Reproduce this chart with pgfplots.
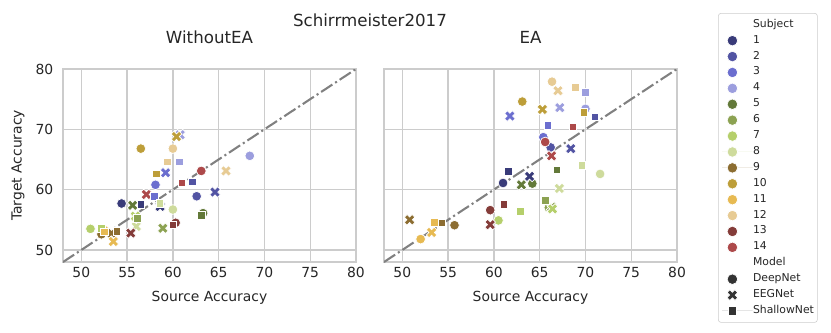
\documentclass[border=0pt]{standalone}
\usepackage{pgfplots}
\pgfplotsset{compat=1.18}
\usepackage{fontspec}
\setmainfont{DejaVu Sans}

\definecolor{c1}{HTML}{393B79}
\definecolor{c2}{HTML}{5254A3}
\definecolor{c3}{HTML}{6B6ECF}
\definecolor{c4}{HTML}{9C9EDE}
\definecolor{c5}{HTML}{637939}
\definecolor{c6}{HTML}{8CA252}
\definecolor{c7}{HTML}{B5CF6B}
\definecolor{c8}{HTML}{CEDB9C}
\definecolor{c9}{HTML}{8C6D31}
\definecolor{c10}{HTML}{BD9E39}
\definecolor{c11}{HTML}{E7BA52}
\definecolor{c12}{HTML}{E7CB94}
\definecolor{c13}{HTML}{843C39}
\definecolor{c14}{HTML}{AD494A}
\definecolor{gridc}{HTML}{CCCCCC}
\definecolor{txt}{HTML}{262626}
\definecolor{mdark}{HTML}{333333}

% filled "X" marker like matplotlib's
\pgfdeclareplotmark{bigX}{%
  \pgftransformrotate{45}%
  \pgfpathmoveto{\pgfqpoint{0.35\pgfplotmarksize}{1\pgfplotmarksize}}%
  \pgfpathlineto{\pgfqpoint{-0.35\pgfplotmarksize}{1\pgfplotmarksize}}%
  \pgfpathlineto{\pgfqpoint{-0.35\pgfplotmarksize}{0.35\pgfplotmarksize}}%
  \pgfpathlineto{\pgfqpoint{-1\pgfplotmarksize}{0.35\pgfplotmarksize}}%
  \pgfpathlineto{\pgfqpoint{-1\pgfplotmarksize}{-0.35\pgfplotmarksize}}%
  \pgfpathlineto{\pgfqpoint{-0.35\pgfplotmarksize}{-0.35\pgfplotmarksize}}%
  \pgfpathlineto{\pgfqpoint{-0.35\pgfplotmarksize}{-1\pgfplotmarksize}}%
  \pgfpathlineto{\pgfqpoint{0.35\pgfplotmarksize}{-1\pgfplotmarksize}}%
  \pgfpathlineto{\pgfqpoint{0.35\pgfplotmarksize}{-0.35\pgfplotmarksize}}%
  \pgfpathlineto{\pgfqpoint{1\pgfplotmarksize}{-0.35\pgfplotmarksize}}%
  \pgfpathlineto{\pgfqpoint{1\pgfplotmarksize}{0.35\pgfplotmarksize}}%
  \pgfpathlineto{\pgfqpoint{0.35\pgfplotmarksize}{0.35\pgfplotmarksize}}%
  \pgfpathclose
  \pgfusepathqfillstroke
}

\pgfplotsset{
  subj/.style={scatter, only marks, forget plot, point meta=explicit symbolic,
    scatter/classes={
      s1={fill=c1,draw=white}, s2={fill=c2,draw=white}, s3={fill=c3,draw=white},
      s4={fill=c4,draw=white}, s5={fill=c5,draw=white}, s6={fill=c6,draw=white},
      s7={fill=c7,draw=white}, s8={fill=c8,draw=white}, s9={fill=c9,draw=white},
      s10={fill=c10,draw=white}, s11={fill=c11,draw=white}, s12={fill=c12,draw=white},
      s13={fill=c13,draw=white}, s14={fill=c14,draw=white}},
    mark options={line width=0.5pt}},
  deep/.style={subj, mark=*, mark size=3.5pt},
  eeg/.style={subj, mark=bigX, mark size=4.0pt},
  shallow/.style={subj, mark=square*, mark size=2.7pt},
  diag/.style={forget plot, no marks, color=gray, line width=1.5pt,
    dash pattern=on 9.6pt off 2.4pt on 1.5pt off 2.4pt},
  lgimg/.style={legend image code/.code={%
    \path (-7.4pt,0pt) -- (14.6pt,0pt);
    \draw[##1] plot coordinates {(0pt,0pt)};}},
  lg/.style={only marks, draw=white, line width=0.5pt, lgimg},
  panel/.style={
    scale only axis, width=210.96pt, height=138.96pt,
    xmin=48, xmax=80, ymin=48, ymax=80,
    xtick={50,55,...,80}, ytick={50,60,70,80},
    grid=major, major grid style={gridc, line width=1pt},
    axis line style={gridc, line width=1.25pt},
    major tick length=0pt,
    /pgf/number format/assume math mode=true,
    tick label style={font=\fontsize{10}{12}\selectfont, text=txt},
    yticklabel style={xshift=-3.5pt},
    label style={font=\fontsize{10}{12}\selectfont, text=txt},
    title style={font=\fontsize{12}{14}\selectfont, text=txt,
      at={(axis description cs:0.5,1.119)}, anchor=center},
    xlabel style={at={(axis description cs:0.5,-0.1865)}, anchor=center},
    ylabel style={at={(axis description cs:-0.1536,0.5)}, anchor=center},
  },
}

\begin{document}
\begin{tikzpicture}
\path (0pt,0pt) rectangle (598.32pt,-239.04pt);
\node[font=\fontsize{12}{14}\selectfont, text=txt] at (266.4pt,-14.4pt) {Schirrmeister2017};

\begin{axis}[panel, at={(45.36pt,-49.68pt)}, anchor=north west,
  title={WithoutEA}, xlabel={Source Accuracy}, ylabel={Target Accuracy}]
\addplot[deep] table[meta=s] {
x y s
54.4 57.7 s1
62.6 58.9 s2
58.1 60.8 s3
68.4 65.6 s4
63.3 56.1 s5
56.0 55.3 s6
51.0 53.5 s7
60.0 56.7 s8
52.2 52.6 s9
56.5 66.8 s10
52.5 53.3 s11
60.0 66.8 s12
60.3 54.5 s13
63.1 63.1 s14
};
\addplot[eeg] table[meta=s] {
x y s
58.6 57.2 s1
64.6 59.6 s2
59.2 62.8 s3
60.8 69.1 s4
55.6 57.4 s5
58.9 53.6 s6
55.9 55.6 s7
56.0 53.9 s8
53.3 52.8 s9
60.4 68.8 s10
53.5 51.4 s11
65.8 63.1 s12
55.4 52.8 s13
57.1 59.2 s14
};
\addplot[shallow] table[meta=s] {
x y s
56.5 57.6 s1
62.1 61.3 s2
58.0 58.9 s3
60.7 64.6 s4
63.1 55.7 s5
56.1 55.2 s6
52.2 53.6 s7
58.6 57.7 s8
53.9 53.1 s9
58.2 62.6 s10
52.5 53.0 s11
59.4 64.6 s12
60.0 54.2 s13
61.0 61.1 s14
};
\addplot[diag] coordinates {(48,48) (80,80)};
\end{axis}

\begin{axis}[panel, at={(276.48pt,-49.68pt)}, anchor=north west,
  title={EA}, xlabel={Source Accuracy}, yticklabels={},
  legend cell align=left,
  legend style={at={(axis description cs:1.14,1.29)}, anchor=north west,
    draw=gridc, rounded corners=2pt, fill=white, text=txt,
    font=\fontsize{7.8}{9}\selectfont, row sep=0pt, column sep=0pt,
    inner xsep=2.5pt, inner ysep=2.5pt,
    nodes={inner sep=0pt, text height=7.5pt, text depth=3.95pt}}]
\addplot[deep] table[meta=s] {
x y s
61.0 61.1 s1
66.2 67.0 s2
65.4 68.7 s3
70.0 73.4 s4
64.2 61.0 s5
66.0 57.0 s6
60.5 54.9 s7
71.6 62.6 s8
55.7 54.1 s9
63.1 74.6 s10
52.0 51.8 s11
66.35 77.9 s12
59.6 56.6 s13
65.6 67.9 s14
};
\addplot[eeg] table[meta=s] {
x y s
63.9 62.2 s1
68.4 66.8 s2
61.75 72.2 s3
67.2 73.6 s4
63.0 60.8 s5
66.3 57.1 s6
66.4 56.8 s7
67.15 60.2 s8
50.8 55.0 s9
65.3 73.3 s10
53.2 52.9 s11
67.0 76.4 s12
59.6 54.2 s13
66.3 65.6 s14
};
\addplot[shallow] table[meta=s] {
x y s
61.6 63.05 s1
71.0 72.1 s2
65.9 70.7 s3
70.0 76.1 s4
66.9 63.3 s5
65.6 58.2 s6
62.9 56.4 s7
69.6 64.0 s8
54.3 54.5 s9
69.8 72.8 s10
53.5 54.6 s11
68.9 77.0 s12
61.1 57.6 s13
68.6 70.4 s14
};
\addplot[diag] coordinates {(48,48) (80,80)};

\addlegendimage{empty legend}\addlegendentry{Subject}
\addlegendimage{lg, mark=*, mark size=3.8pt, fill=c1}\addlegendentry{1}
\addlegendimage{lg, mark=*, mark size=3.8pt, fill=c2}\addlegendentry{2}
\addlegendimage{lg, mark=*, mark size=3.8pt, fill=c3}\addlegendentry{3}
\addlegendimage{lg, mark=*, mark size=3.8pt, fill=c4}\addlegendentry{4}
\addlegendimage{lg, mark=*, mark size=3.8pt, fill=c5}\addlegendentry{5}
\addlegendimage{lg, mark=*, mark size=3.8pt, fill=c6}\addlegendentry{6}
\addlegendimage{lg, mark=*, mark size=3.8pt, fill=c7}\addlegendentry{7}
\addlegendimage{lg, mark=*, mark size=3.8pt, fill=c8}\addlegendentry{8}
\addlegendimage{lg, mark=*, mark size=3.8pt, fill=c9}\addlegendentry{9}
\addlegendimage{lg, mark=*, mark size=3.8pt, fill=c10}\addlegendentry{10}
\addlegendimage{lg, mark=*, mark size=3.8pt, fill=c11}\addlegendentry{11}
\addlegendimage{lg, mark=*, mark size=3.8pt, fill=c12}\addlegendentry{12}
\addlegendimage{lg, mark=*, mark size=3.8pt, fill=c13}\addlegendentry{13}
\addlegendimage{lg, mark=*, mark size=3.8pt, fill=c14}\addlegendentry{14}
\addlegendimage{empty legend}\addlegendentry{Model}
\addlegendimage{lg, mark=*, mark size=3.8pt, fill=mdark}\addlegendentry{DeepNet}
\addlegendimage{lg, mark=bigX, mark size=4.0pt, fill=mdark}\addlegendentry{EEGNet}
\addlegendimage{lg, mark=square*, mark size=3pt, fill=mdark}\addlegendentry{ShallowNet}
\end{axis}
\end{tikzpicture}
\end{document}
